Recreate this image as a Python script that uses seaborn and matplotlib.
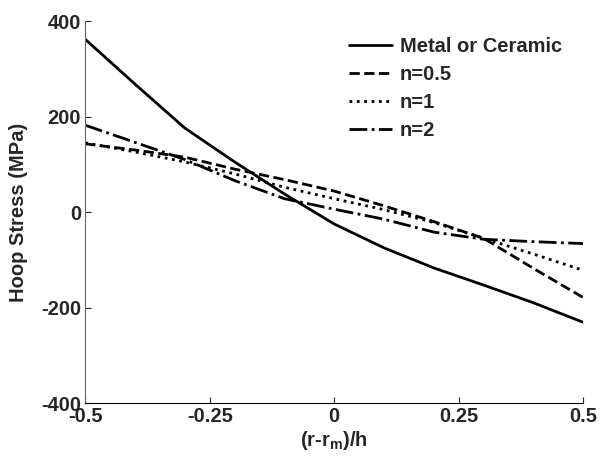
import numpy as np
import pandas as pd
import matplotlib
matplotlib.use("Agg")
import matplotlib.pyplot as plt
import seaborn as sns

x = [-0.5, -0.4, -0.3, -0.2, -0.1, 0.0, 0.1, 0.2, 0.3, 0.4, 0.5]
metal = [362, 268, 176, 105, 38, -25, -75, -117, -153, -190, -231]
n05 = [143, 130, 115, 90, 68, 44, 13, -20, -55, -118, -179]
n1 = [145, 126, 105, 80, 52, 28, 5, -22, -55, -88, -122]
n2 = [182, 146, 110, 66, 28, 6, -15, -42, -57, -62, -66]
labels = ["Metal or Ceramic", "n=0.5", "n=1", "n=2"]
xticks = [-0.5, -0.25, 0, 0.25, 0.5]
yticks = [-400, -200, 0, 200, 400]

sns.set_style("white")
plt.rcParams["font.family"] = ["Liberation Sans", "DejaVu Sans"]
plt.rcParams["font.weight"] = "bold"
plt.rcParams["mathtext.default"] = "bf"
plt.rcParams["mathtext.fontset"] = "custom"
plt.rcParams["mathtext.bf"] = "Liberation Sans:bold"

df = pd.concat([
    pd.DataFrame({"x": x, "y": v, "series": lab})
    for v, lab in zip([metal, n05, n1, n2], labels)
])

FS = 14.5
fig = plt.figure(figsize=(6, 4.59), dpi=100)
ax = fig.add_axes([0.142, 0.122, 0.830, 0.832])
dashes = {labels[0]: "", labels[1]: (3.7, 1.6), labels[2]: (1, 1.65), labels[3]: (6.4, 1.6, 1, 1.6)}
sns.lineplot(data=df, x="x", y="y", style="series", dashes=dashes, color="black",
             linewidth=2, ax=ax, legend=True)

ax.set_xlim(-0.5, 0.5)
ax.set_ylim(-400, 400)
ax.set_xticks(xticks)
ax.set_xticklabels(["-0.5", "-0.25", "0", "0.25", "0.5"], fontsize=FS, fontweight="bold")
ax.set_yticks(yticks)
ax.set_yticklabels([str(t) for t in yticks], fontsize=FS, fontweight="bold")
ax.tick_params(direction="in", length=4, width=0.8, pad=3, bottom=True, left=True)
ax.set_xlabel(r"(r-r$_{\mathbf{m}}$)/h", fontsize=FS, fontweight="bold", labelpad=2)
ax.set_ylabel("Hoop Stress (MPa)", fontsize=FS, fontweight="bold")
ax.yaxis.set_label_coords(-0.115, 0.5)
for s in ["top", "right"]:
    ax.spines[s].set_visible(False)
ax.spines["left"].set_color("#666666")
ax.spines["bottom"].set_color("black")

leg = ax.legend(loc="upper right", frameon=False, fontsize=FS, handlelength=2.15,
                handletextpad=0.4, labelspacing=0.45, bbox_to_anchor=(0.994, 1.007))
for t in leg.get_texts():
    t.set_fontweight("bold")
for h in leg.get_lines():
    h.set_linewidth(2)

fig.savefig("out.png", dpi=100)
